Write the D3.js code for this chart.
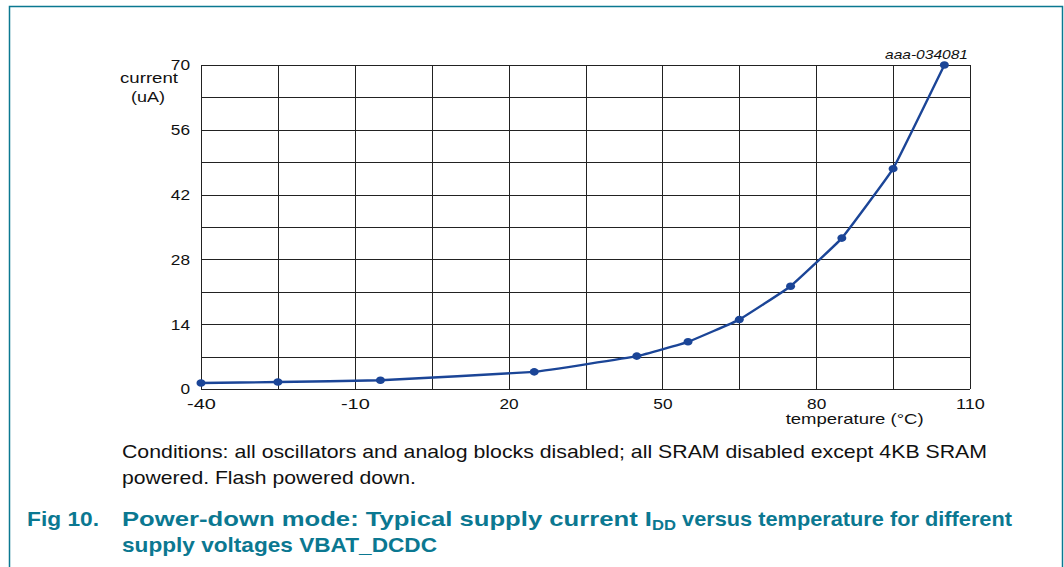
<!DOCTYPE html>
<html>
<head>
<meta charset="utf-8">
<script src="https://cdn.jsdelivr.net/npm/d3@7"></script>
<style>
  body { margin: 0; background: #fff; }
  svg { display: block; font-family: "Liberation Sans", Arial, sans-serif; }
</style>
</head>
<body>
<div id="chart"></div>
<script>
const temperature = [-40, -25, -5, 25, 45, 55, 65, 75, 85, 95, 105];
const current = [1.3, 1.5, 1.9, 3.7, 7.1, 10.2, 15.0, 22.2, 32.6, 47.6, 70];
const xTicks = [-40, -10, 20, 50, 80, 110];
const yTicks = [0, 14, 28, 42, 56, 70];
const xGrid = d3.range(-40, 111, 15);
const yGrid = d3.range(0, 71, 7);

const W = 1064, H = 567;
const margin = {top: 65, right: 94, bottom: 178, left: 201};
const width = W - margin.left - margin.right,
    height = H - margin.top - margin.bottom;

const root = d3.select("#chart").append("svg")
    .attr("width", W)
    .attr("height", H);

// page frame
root.append("path")
    .attr("d", `M9.5,${H} V6.5 H1062.5 V${H}`)
    .attr("fill", "none")
    .attr("stroke", "#0b7891")
    .attr("stroke-width", 1.5);

const svg = root.append("g")
    .attr("transform", `translate(${margin.left}, ${margin.top})`);

const x = d3.scaleLinear().domain([-40, 110]).range([0, width]);
const y = d3.scaleLinear().domain([0, 70]).range([height, 0]);

// grid
svg.selectAll(".vgrid")
    .data(xGrid)
    .enter().append("line")
    .attr("x1", d => Math.round(x(d)) + 0.5)
    .attr("x2", d => Math.round(x(d)) + 0.5)
    .attr("y1", 0).attr("y2", height)
    .attr("stroke", "#222");

svg.selectAll(".hgrid")
    .data(yGrid)
    .enter().append("line")
    .attr("y1", d => Math.round(y(d)) + 0.5)
    .attr("y2", d => Math.round(y(d)) + 0.5)
    .attr("x1", 0).attr("x2", width)
    .attr("stroke", "#222");

// axes (labels only)
const xAxis = svg.append("g")
    .attr("transform", `translate(0, ${height})`)
    .call(d3.axisBottom(x).tickValues(xTicks).tickSize(0).tickPadding(9).tickFormat(d => String(d)));
const yAxis = svg.append("g")
    .call(d3.axisLeft(y).tickValues(yTicks).tickSize(0).tickPadding(11).tickFormat(d => String(d)));
[xAxis, yAxis].forEach(a => {
    a.select(".domain").remove();
    a.selectAll(".tick text")
        .attr("font-family", "Liberation Sans, Arial, sans-serif")
        .attr("font-size", 15.5)
        .attr("fill", "#111")
        .attr("textLength", d => String(d).length * 9.6)
        .attr("lengthAdjust", "spacingAndGlyphs");
});

// axis titles
function label(g, tx, ty, txt, size, len, anchor, italic) {
    return g.append("text")
        .attr("x", tx).attr("y", ty)
        .attr("text-anchor", anchor)
        .attr("font-size", size).attr("fill", "#111")
        .attr("font-style", italic ? "italic" : null)
        .attr("textLength", len).attr("lengthAdjust", "spacingAndGlyphs")
        .text(txt);
}
label(svg, -52, 18, "current", 15, 58, "middle");
label(svg, -53, 37, "(uA)", 15, 34, "middle");
label(svg, x(87.5), height + 35, "temperature (°C)", 15, 138, "middle");
label(svg, width - 2, -6, "aaa-034081", 13, 83, "end", true);

// series
const pts = temperature.map((t, i) => [t, current[i]]);
svg.append("path")
    .datum(pts)
    .attr("fill", "none")
    .attr("stroke", "#1b4597")
    .attr("stroke-width", 2.4)
    .attr("d", d3.line().x(d => x(d[0])).y(d => y(d[1])).curve(d3.curveCardinal.tension(0.75)));

svg.selectAll(".pt")
    .data(pts)
    .enter().append("ellipse")
    .attr("cx", d => x(d[0]))
    .attr("cy", d => y(d[1]))
    .attr("rx", 4.5).attr("ry", 3.8)
    .attr("fill", "#1b4597");

// notes and caption
label(root, 122, 458, "Conditions: all oscillators and analog blocks disabled; all SRAM disabled except 4KB SRAM", 19, 865, "start");
label(root, 122, 484, "powered. Flash powered down.", 19, 294, "start");

const cap = root.append("g")
    .attr("font-size", 21).attr("font-weight", "bold").attr("fill", "#0b7891");
cap.append("text").attr("x", 27).attr("y", 526)
    .attr("textLength", 72).attr("lengthAdjust", "spacingAndGlyphs").text("Fig 10.");
const l1 = cap.append("text").attr("x", 122).attr("y", 526);
l1.append("tspan").text("Power-down mode: Typical supply current I")
    .attr("textLength", 530).attr("lengthAdjust", "spacingAndGlyphs");
l1.append("tspan").attr("font-size", 15).attr("dy", 4).text("DD")
    .attr("textLength", 24).attr("lengthAdjust", "spacingAndGlyphs");
l1.append("tspan").attr("dy", -4).text(" versus temperature for different")
    .attr("textLength", 336).attr("lengthAdjust", "spacingAndGlyphs");
cap.append("text").attr("x", 122).attr("y", 552)
    .attr("textLength", 315).attr("lengthAdjust", "spacingAndGlyphs").text("supply voltages VBAT_DCDC");
</script>
</body>
</html>
